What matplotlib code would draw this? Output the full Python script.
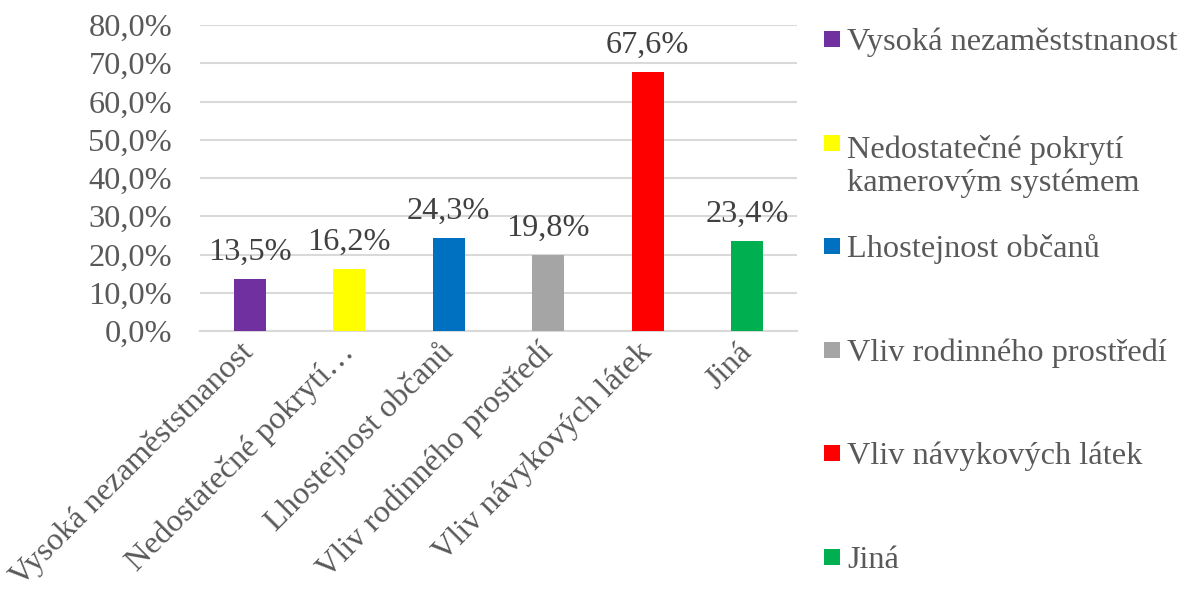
import matplotlib
matplotlib.use("Agg")
import matplotlib.pyplot as plt
from matplotlib.patches import Rectangle
from matplotlib.ticker import FuncFormatter, MultipleLocator

categories = ["Vysoká nezaměststnanost", "Nedostatečné pokrytí…", "Lhostejnost občanů",
              "Vliv rodinného prostředí", "Vliv návykových látek", "Jiná"]
legend_labels = ["Vysoká nezaměststnanost", "Nedostatečné pokrytí\nkamerovým systémem",
                 "Lhostejnost občanů", "Vliv rodinného prostředí", "Vliv návykových látek", "Jiná"]
values = [13.5, 16.2, 24.3, 19.8, 67.6, 23.4]
colors = ["#7030A0", "#FFFF00", "#0070C0", "#A5A5A5", "#FF0000", "#00B050"]

TXT = "#595959"
FS = 23.3
plt.rcParams['font.family'] = ['Liberation Serif', 'DejaVu Serif']

fig = plt.figure(figsize=(11.89, 5.95), dpi=100)
ax = fig.add_axes([200/1189, 1-331/595, 597/1189, 306/595])

x = list(range(len(values)))
bars = ax.bar(x, values, width=0.32, color=colors, zorder=3)
ax.set_xlim(-0.5, len(values)-0.5)
ax.set_ylim(0, 80)
ax.yaxis.set_major_locator(MultipleLocator(10))
ax.yaxis.set_major_formatter(FuncFormatter(lambda v, p: f"{v:.1f}%".replace(".", ",")))
ax.grid(axis='y', color="#D9D9D9", linewidth=1.5, zorder=0)
for s in ['top', 'right', 'left']:
    ax.spines[s].set_visible(False)
ax.spines['bottom'].set_color("#D9D9D9")
ax.spines['bottom'].set_linewidth(1.5)
ax.tick_params(axis='y', length=0, pad=20, labelsize=FS, labelcolor=TXT)
ax.tick_params(axis='x', length=0, pad=12, labelsize=FS, labelcolor=TXT)
ax.set_xticks(x)
ax.set_xticklabels(categories, rotation=45, ha='right', va='center', rotation_mode='anchor')

for b, v in zip(bars, values):
    ax.annotate(f"{v:.1f}%".replace(".", ","), (b.get_x() + b.get_width()/2, v),
                xytext=(0, 9), textcoords='offset points', ha='center', va='bottom',
                fontsize=FS, color="#404040")

# manual legend
LS_PX = 37.0
for i, (lab, c) in enumerate(zip(legend_labels, colors)):
    yc = 39 + 103.6 * i
    nlines = lab.count("\n") + 1
    fig.patches.append(Rectangle((824/1189, 1-(yc+8)/595), 16/1189, 16/595,
                                 transform=fig.transFigure, facecolor=c, edgecolor='none'))
    fig.text(847/1189, 1-(yc+11+(nlines-1)*LS_PX)/595, lab, ha='left', va='baseline',
             fontsize=FS, color=TXT, linespacing=1.15)

fig.savefig("out.png", dpi=100)
